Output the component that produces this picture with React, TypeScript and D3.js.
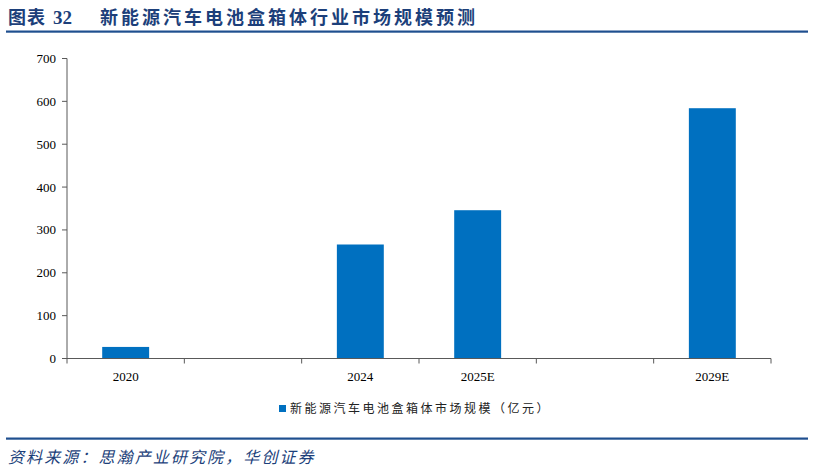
import React from "react";
import * as d3 from "d3";

const categories = ["2020", "", "2024", "2025E", "", "2029E"];
const values: (number | null)[] = [27, null, 266, 346, null, 584];
const yTicks = [0, 100, 200, 300, 400, 500, 600, 700];
const titleLabel = "图表";
const titleNumber = "32";
const titleText = "新能源汽车电池盒箱体行业市场规模预测";
const legendText = "新能源汽车电池盒箱体市场规模（亿元）";
const sourceText = "资料来源：思瀚产业研究院，华创证券";

const W = 814;
const H = 470;
const left = 67;
const right = 771;
const top = 58.5;
const bottom = 358.5;

export default function App() {
  const x = d3.scaleBand<number>().domain(categories.map((_, i) => i)).range([left, right]).paddingInner(0.6).paddingOuter(0.3);
  const xOuter = d3.scaleBand<number>().domain(categories.map((_, i) => i)).range([left, right]);
  const y = d3.scaleLinear().domain([0, 700]).range([bottom, top]);
  const axisColor = "#595959";
  const serif = "'Liberation Serif', 'Times New Roman', serif";
  const cjk = "'Noto Sans CJK SC', sans-serif";
  return (
    <svg width={W} height={H} style={{ position: "absolute", left: 0, top: 0, background: "#fff" }}>
      <text x={8} y={24} fill="#1c3f7a" fontFamily={cjk} fontWeight={700} fontSize={18} letterSpacing={1}>
        {titleLabel}
      </text>
      <text x={53} y={24} fill="#1c3f7a" fontFamily={serif} fontWeight={700} fontSize={19}>
        {titleNumber}
      </text>
      <text x={100} y={24} fill="#1c3f7a" fontFamily={cjk} fontWeight={700} fontSize={18} letterSpacing={3}>
        {titleText}
      </text>
      <rect x={6} y={30.5} width={W - 12} height={2.2} fill="#1f4f8f" />
      {/* bars */}
      {values.map((v, i) =>
        v == null ? null : (
          <rect key={i} x={x(i)} y={y(v)} width={x.bandwidth()} height={y(0) - y(v)} fill="#0070C0" />
        )
      )}
      {/* y axis */}
      <line x1={left} x2={left} y1={y(700)} y2={y(0)} stroke={axisColor} strokeWidth={1} />
      {yTicks.map((t) => (
        <g key={t}>
          <line x1={left - 5} x2={left} y1={y(t)} y2={y(t)} stroke={axisColor} strokeWidth={1} />
          <text x={56} y={y(t) + 4.5} textAnchor="end" fontFamily={serif} fontSize={13} fill="#000">
            {t}
          </text>
        </g>
      ))}
      {/* x axis */}
      <line x1={left - 5} x2={right} y1={y(0)} y2={y(0)} stroke={axisColor} strokeWidth={1} />
      {categories.map((c, i) => (
        <line key={"t" + i} x1={(xOuter(i) as number) + xOuter.bandwidth()} x2={(xOuter(i) as number) + xOuter.bandwidth()} y1={y(0)} y2={y(0) + 5} stroke={axisColor} strokeWidth={1} />
      ))}
      <line x1={left} x2={left} y1={y(0)} y2={y(0) + 5} stroke={axisColor} strokeWidth={1} />
      {categories.map((c, i) => (
        <text key={"l" + i} x={(xOuter(i) as number) + xOuter.bandwidth() / 2} y={381} textAnchor="middle" fontFamily={serif} fontSize={13} fill="#000">
          {c}
        </text>
      ))}
      {/* legend */}
      <rect x={279} y={405} width={7} height={7} fill="#0070C0" />
      <text x={290} y={413} fontFamily={cjk} fontSize={12} fill="#222" letterSpacing={2.5}>
        {legendText}
      </text>
      <rect x={6} y={437.5} width={W - 12} height={2.2} fill="#1f4f8f" />
      <text x={8} y={463} fill="#1c3f7a" fontFamily={cjk} fontStyle="italic" fontSize={16} letterSpacing={2.1}>
        {sourceText}
      </text>
    </svg>
  );
}
